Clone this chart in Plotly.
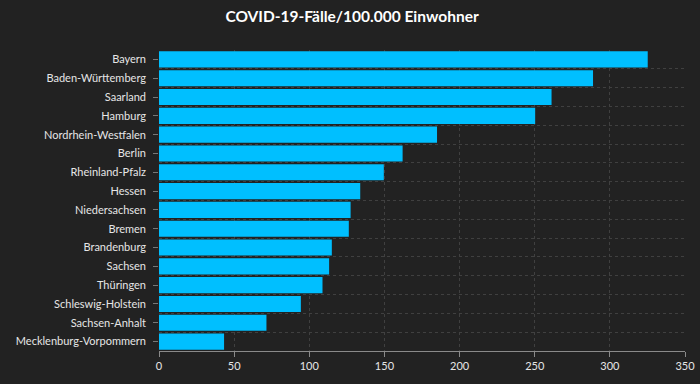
import plotly.graph_objects as go

states = ["Bayern", "Baden-Württemberg", "Saarland", "Hamburg", "Nordrhein-Westfalen",
          "Berlin", "Rheinland-Pfalz", "Hessen", "Niedersachsen", "Bremen", "Brandenburg",
          "Sachsen", "Thüringen", "Schleswig-Holstein", "Sachsen-Anhalt",
          "Mecklenburg-Vorpommern"]
cases_per_100k = [325.2, 288.8, 261.2, 250.3, 185.0, 162.1, 149.6, 133.9, 127.5, 126.3,
                  115.0, 113.2, 108.8, 94.4, 71.5, 43.3]
x_ticks = [0, 50, 100, 150, 200, 250, 300, 350]

BG = "#222222"
GRID = "#404040"
AXIS = "#8a8a8a"
TXT = "#e6e6e6"
FONT = "Lato, 'Open Sans', sans-serif"

fig = go.Figure()
fig.add_trace(go.Bar(
    x=cases_per_100k, y=states, orientation="h",
    marker=dict(color="#00bfff", line=dict(width=0)),
    hovertemplate="%{y}: %{x}<extra></extra>",
))
fig.add_trace(go.Scatter(x=[None], y=[None], yaxis="y2", showlegend=False, hoverinfo="skip"))

fig.update_layout(
    width=700, height=384,
    paper_bgcolor=BG, plot_bgcolor=BG,
    margin=dict(l=159, r=15, t=50, b=33, autoexpand=False),
    showlegend=False,
    bargap=0.14,
    font=dict(family=FONT, color=TXT, size=11),
    title=dict(text="<b>COVID-19-Fälle/100.000 Einwohner</b>", x=0.503, xanchor="center",
               y=0.958, yanchor="middle",
               font=dict(family=FONT, size=15.5, color="#ffffff"),
               automargin=False),
    xaxis=dict(
        range=[0, 350], tickvals=x_ticks, ticktext=[str(v) for v in x_ticks],
        showgrid=True, gridcolor=GRID, griddash="3px,3px", gridwidth=1,
        zeroline=False, showline=True, linecolor=AXIS, linewidth=1,
        ticks="outside", ticklen=5, tickcolor=AXIS,
        tickfont=dict(family=FONT, size=11, color=TXT),
        automargin=False, fixedrange=True,
    ),
    yaxis=dict(
        type="category", categoryorder="array", categoryarray=states,
        autorange="reversed", tickson="boundaries",
        showgrid=True, gridcolor=GRID, griddash="3px,3px", gridwidth=1,
        ticks="", showline=False, zeroline=False,
        tickfont=dict(family=FONT, size=11, color=TXT),
        ticklabelstandoff=12,
        automargin=False, fixedrange=True,
    ),
    yaxis2=dict(
        overlaying="y", side="left", range=[len(states) - 0.5, -0.5],
        tickvals=list(range(len(states))), showticklabels=False,
        ticks="outside", ticklen=5, tickcolor="#777777",
        showgrid=False, zeroline=False, showline=False,
        automargin=False, fixedrange=True,
    ),
)

fig.write_html(
    "out.html",
    config={"displayModeBar": False},
    post_script="document.body.style.margin='0';document.body.style.background='#222222';",
)
